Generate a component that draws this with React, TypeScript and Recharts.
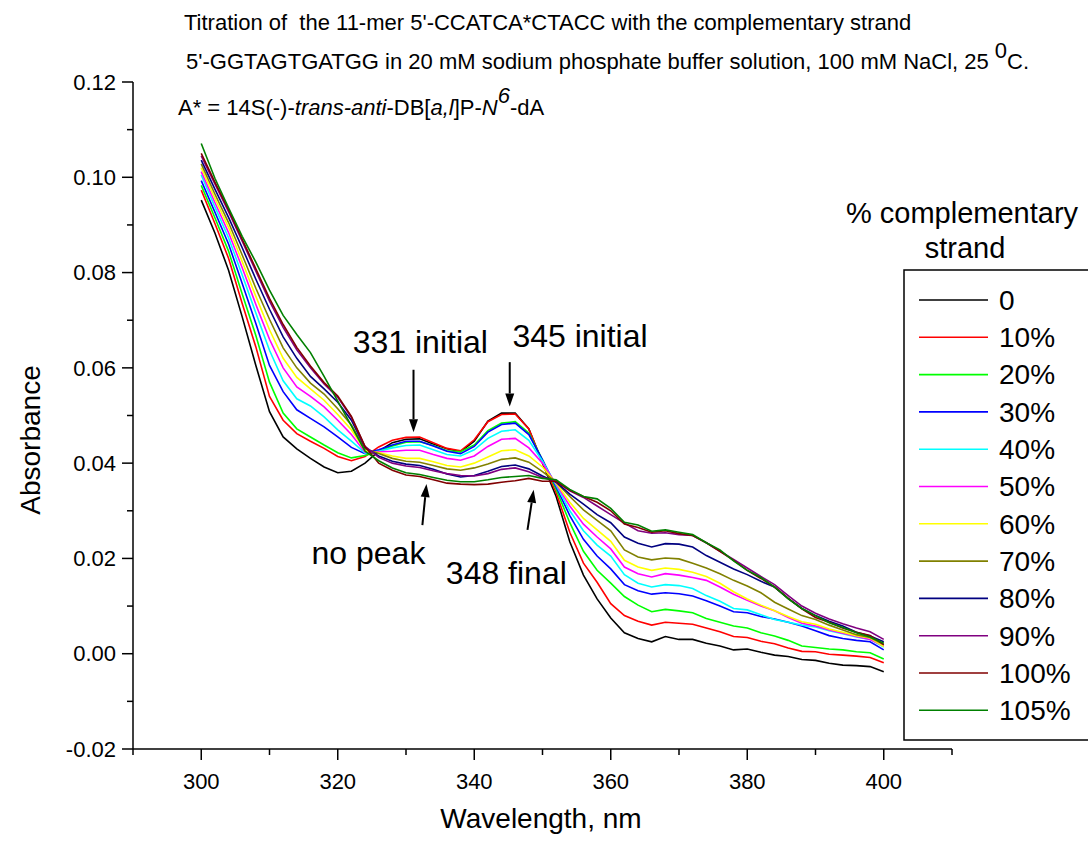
import { LineChart, Line, XAxis, YAxis, ReferenceLine, ReferenceDot } from 'recharts';

// wavelength grid, nm
const wavelength = [
  300, 302, 304, 306, 308, 310, 312, 314, 316, 318, 320, 322, 324, 326, 328, 330, 332,
  334, 336, 338, 340, 342, 344, 346, 348, 350, 352, 354, 356, 358, 360, 362, 364, 366,
  368, 370, 372, 374, 376, 378, 380, 382, 384, 386, 388, 390, 392, 394, 396, 398, 400,
];

// absorbance per % complementary strand
const pct0 = [
  0.0952, 0.0883, 0.0805, 0.0707, 0.0605, 0.0508, 0.0455, 0.043, 0.041, 0.0392, 0.038, 0.0383, 0.04,
  0.0425, 0.0443, 0.045, 0.0451, 0.044, 0.043, 0.0424, 0.0446, 0.0488, 0.0505, 0.0505, 0.0472, 0.04,
  0.033, 0.0235, 0.0165, 0.0115, 0.0075, 0.0044, 0.0032, 0.0025, 0.0036, 0.003, 0.003, 0.0022, 0.0016,
  0.0008, 0.001, 0.0003, -0.0003, -0.0006, -0.0012, -0.0014, -0.002, -0.0024, -0.0025, -0.0027, -0.0038,
];
const pct10 = [
  0.0973, 0.0903, 0.083, 0.0735, 0.0644, 0.054, 0.049, 0.0462, 0.0446, 0.0431, 0.0414, 0.0405, 0.0414,
  0.0434, 0.0448, 0.0454, 0.0455, 0.0443, 0.0431, 0.0426, 0.0449, 0.0487, 0.0502, 0.0503, 0.0472, 0.0402,
  0.0338, 0.0255, 0.019, 0.015, 0.0105, 0.008, 0.0068, 0.006, 0.0066, 0.0064, 0.0062, 0.0054, 0.0046,
  0.0036, 0.0034, 0.0026, 0.0021, 0.0012, 0.0005, 0.0004, -0.0001, -0.0003, -0.0005, -0.0008, -0.0019,
];
const pct20 = [
  0.0983, 0.0915, 0.0845, 0.0755, 0.0668, 0.057, 0.0505, 0.0472, 0.0455, 0.0438, 0.0422, 0.0411, 0.0416,
  0.0425, 0.0436, 0.0444, 0.0445, 0.0437, 0.0426, 0.0424, 0.0438, 0.0468, 0.0484, 0.0487, 0.0463, 0.0407,
  0.0345, 0.0275, 0.0215, 0.0175, 0.0148, 0.012, 0.0102, 0.0088, 0.0093, 0.009, 0.0086, 0.0074, 0.0066,
  0.0058, 0.0054, 0.0044, 0.0037, 0.0028, 0.0016, 0.0013, 0.001, 0.0008, 0.0004, 0.0002, -0.0011,
];
const pct30 = [
  0.0993, 0.0927, 0.086, 0.0777, 0.0693, 0.0605, 0.055, 0.0512, 0.0494, 0.0476, 0.0455, 0.0433, 0.042,
  0.0428, 0.0438, 0.0446, 0.0446, 0.0436, 0.0425, 0.042, 0.0435, 0.0465, 0.0481, 0.0484, 0.046, 0.0407,
  0.035, 0.029, 0.024, 0.0205, 0.0178, 0.0145, 0.0132, 0.0125, 0.0128, 0.0126, 0.0121, 0.0111, 0.01,
  0.0088, 0.0086, 0.0078, 0.0073, 0.0066, 0.0058, 0.0048, 0.0038, 0.0032, 0.0028, 0.0025, 0.0008,
];
const pct40 = [
  0.1005, 0.0938, 0.0873, 0.0795, 0.0715, 0.0637, 0.0573, 0.0535, 0.052, 0.0497, 0.047, 0.0446, 0.0421,
  0.0425, 0.0432, 0.0437, 0.0438, 0.0428, 0.0418, 0.0415, 0.0428, 0.0452, 0.0467, 0.047, 0.0448, 0.0404,
  0.0354, 0.03, 0.0258, 0.0228, 0.0205, 0.0166, 0.0148, 0.014, 0.0145, 0.0143, 0.0137, 0.0122, 0.011,
  0.0095, 0.0092, 0.0082, 0.0072, 0.0066, 0.006, 0.0056, 0.0048, 0.0042, 0.0035, 0.003, 0.0014,
];
const pct50 = [
  0.1012, 0.0947, 0.0884, 0.081, 0.0733, 0.066, 0.06, 0.056, 0.054, 0.0518, 0.049, 0.046, 0.0423,
  0.0424, 0.0425, 0.0427, 0.0427, 0.0418, 0.041, 0.0406, 0.0415, 0.0435, 0.045, 0.0452, 0.0432, 0.04,
  0.0356, 0.031, 0.0272, 0.0245, 0.022, 0.0182, 0.0168, 0.0161, 0.0168, 0.0165, 0.016, 0.0154, 0.014,
  0.0125, 0.0112, 0.01, 0.009, 0.0076, 0.0064, 0.0058, 0.005, 0.0043, 0.0036, 0.003, 0.0016,
];
const pct60 = [
  0.102, 0.0956, 0.0895, 0.0823, 0.075, 0.068, 0.062, 0.058, 0.0556, 0.0532, 0.0502, 0.047, 0.0426,
  0.0422, 0.0415, 0.041, 0.041, 0.0403, 0.0395, 0.0392, 0.04, 0.0413, 0.0426, 0.0428, 0.0415, 0.0392,
  0.0358, 0.0318, 0.0284, 0.026, 0.0236, 0.0196, 0.0182, 0.0175, 0.018, 0.0177, 0.0171, 0.0162, 0.0148,
  0.013, 0.0115, 0.0102, 0.009, 0.0078, 0.0067, 0.0062, 0.0052, 0.0045, 0.0038, 0.0033, 0.0015,
];
const pct70 = [
  0.1028, 0.0965, 0.0905, 0.0837, 0.0767, 0.0702, 0.0642, 0.06, 0.0568, 0.0545, 0.0514, 0.048, 0.043,
  0.042, 0.041, 0.0404, 0.0402, 0.0395, 0.0388, 0.0385, 0.039, 0.0398, 0.0408, 0.0411, 0.0402, 0.0382,
  0.036, 0.033, 0.0302, 0.028, 0.0258, 0.0218, 0.0203, 0.0197, 0.0201, 0.0199, 0.019, 0.018, 0.0168,
  0.0154, 0.0142, 0.0128, 0.0108, 0.0094, 0.008, 0.0072, 0.006, 0.005, 0.004, 0.0034, 0.0019,
];
const pct80 = [
  0.1036, 0.0975, 0.0916, 0.0852, 0.0786, 0.0723, 0.0665, 0.062, 0.0582, 0.0556, 0.0528, 0.049, 0.0433,
  0.0415, 0.0404, 0.0398, 0.0395, 0.0387, 0.0377, 0.0371, 0.0374, 0.0383, 0.0393, 0.0396, 0.0388, 0.0373,
  0.036, 0.0335, 0.0314, 0.0292, 0.0275, 0.0245, 0.0232, 0.0224, 0.0231, 0.023, 0.0224, 0.0206, 0.0192,
  0.0178, 0.0166, 0.0152, 0.014, 0.0116, 0.0095, 0.008, 0.0068, 0.0058, 0.0045, 0.0037, 0.0025,
];
const pct90 = [
  0.1045, 0.0986, 0.0928, 0.0866, 0.0803, 0.074, 0.0685, 0.0638, 0.06, 0.0566, 0.0538, 0.0496, 0.0435,
  0.0412, 0.04, 0.0394, 0.0391, 0.0384, 0.0378, 0.0374, 0.0373, 0.0378, 0.0387, 0.039, 0.0382, 0.037,
  0.0362, 0.0342, 0.0328, 0.031, 0.0292, 0.0274, 0.0258, 0.0253, 0.0254, 0.025, 0.0248, 0.0233, 0.0215,
  0.0198, 0.018, 0.0162, 0.0145, 0.0122, 0.01, 0.0085, 0.0073, 0.0063, 0.0054, 0.0046, 0.003,
];
const pct100 = [
  0.105, 0.099, 0.0932, 0.087, 0.0808, 0.0746, 0.0691, 0.0643, 0.0604, 0.0569, 0.0541, 0.0498, 0.0435,
  0.04, 0.0385, 0.0375, 0.0372, 0.0365, 0.0358, 0.0356, 0.0355, 0.0356, 0.036, 0.0363, 0.0368, 0.0362,
  0.0362, 0.0343, 0.033, 0.0318, 0.03, 0.0272, 0.0265, 0.0255, 0.0258, 0.0252, 0.0248, 0.0233, 0.0215,
  0.0196, 0.0175, 0.0158, 0.014, 0.0116, 0.0094, 0.0076, 0.0066, 0.0054, 0.0045, 0.0038, 0.0019,
];
const pct105 = [
  0.1071, 0.0998, 0.0936, 0.0876, 0.0822, 0.0763, 0.071, 0.067, 0.0632, 0.0582, 0.053, 0.0478, 0.0425,
  0.0405, 0.039, 0.038, 0.0376, 0.037, 0.0364, 0.0361, 0.0361, 0.0365, 0.037, 0.0372, 0.0374, 0.0368,
  0.0365, 0.0345, 0.033, 0.0325, 0.0305, 0.0276, 0.027, 0.0257, 0.026, 0.0255, 0.025, 0.0233, 0.0218,
  0.0195, 0.0175, 0.016, 0.014, 0.0115, 0.0095, 0.008, 0.0065, 0.0055, 0.0044, 0.0035, 0.0022,
];

const seriesLabels = ['0', '10%', '20%', '30%', '40%', '50%', '60%', '70%', '80%', '90%', '100%', '105%'];
const seriesColors = [
  '#000000', '#FF0000', '#00FF00', '#0000FF', '#00FFFF', '#FF00FF',
  '#FFFF00', '#808000', '#000080', '#800080', '#800000', '#008000',
];
const seriesValues = [pct0, pct10, pct20, pct30, pct40, pct50, pct60, pct70, pct80, pct90, pct100, pct105];

const xTicks = [290, 300, 310, 320, 330, 340, 350, 360, 370, 380, 390, 400, 410];
const yTicks = [-0.02, -0.01, 0, 0.01, 0.02, 0.03, 0.04, 0.05, 0.06, 0.07, 0.08, 0.09, 0.1, 0.11, 0.12];

// annotations: label text, anchor point, arrow tail -> tip
const notes = [
  { text: '331 initial', x: 332.1, y: 0.0654, from: [331.1, 0.0596], to: [331.1, 0.0465] },
  { text: '345 initial', x: 355.5, y: 0.0667, from: [345.2, 0.0612], to: [345.2, 0.0519] },
  { text: 'no peak', x: 324.5, y: 0.0211, from: [332.4, 0.027], to: [333.0, 0.0356] },
  { text: '348 final', x: 344.7, y: 0.0169, from: [347.8, 0.026], to: [348.7, 0.0344] },
];

const rows = wavelength.map((w, i) => {
  const row: Record<string, number> = { w };
  seriesValues.forEach((vals, k) => {
    row['s' + k] = vals[i];
  });
  return row;
});

const FONT = '"Liberation Sans", Arial, sans-serif';

function YTick(props: any) {
  const { x, y, payload } = props;
  const v = payload.value as number;
  const major = Math.round(v * 100) % 2 === 0;
  return (
    <g>
      <line x1={x - (major ? 11 : 6)} y1={y} x2={x} y2={y} stroke="#000" strokeWidth={1.5} />
      {major && (
        <text x={x - 17} y={y} dy="0.35em" textAnchor="end" fontSize={22} fontFamily={FONT} fill="#000">
          {v.toFixed(2)}
        </text>
      )}
    </g>
  );
}

function XTick(props: any) {
  const { x, y, payload } = props;
  const v = payload.value as number;
  const major = v % 20 === 0;
  return (
    <g>
      <line x1={x} y1={y} x2={x} y2={y + (major ? 11 : 6)} stroke="#000" strokeWidth={1.5} />
      {major && (
        <text x={x} y={y + 32} dy="0.35em" textAnchor="middle" fontSize={22} fontFamily={FONT} fill="#000">
          {v}
        </text>
      )}
    </g>
  );
}

function Arrow(props: any) {
  const { x1, y1, x2, y2 } = props;
  const ang = Math.atan2(y2 - y1, x2 - x1);
  const len = 13;
  const half = 4.5;
  const bx = x2 - len * Math.cos(ang);
  const by = y2 - len * Math.sin(ang);
  const px = -Math.sin(ang) * half;
  const py = Math.cos(ang) * half;
  return (
    <g>
      <line x1={x1} y1={y1} x2={bx} y2={by} stroke="#000" strokeWidth={2} />
      <polygon points={`${x2},${y2} ${bx + px},${by + py} ${bx - px},${by - py}`} fill="#000" />
    </g>
  );
}

function NoteText(text: string) {
  return (props: any) => (
    <text x={props.cx} y={props.cy} dy="0.35em" textAnchor="middle" fontSize={32} fontFamily={FONT} fill="#000">
      {text}
    </text>
  );
}

function Overlay() {
  const legendTop = 300;
  const rowGap = 37.3;
  return (
    <svg
      width={1088}
      height={842}
      style={{ position: 'absolute', left: 0, top: 0, pointerEvents: 'none' }}
      fontFamily={FONT}
    >
      <text x={184} y={22} dy="0.35em" fontSize={22} style={{ whiteSpace: 'pre' }}>
        {"Titration of  the 11-mer 5'-CCATCA*CTACC with the complementary strand"}
      </text>
      <text x={180} y={61} dy="0.35em" fontSize={22} style={{ whiteSpace: 'pre' }}>
        {" 5'-GGTAGTGATGG in 20 mM sodium phosphate buffer solution, 100 mM NaCl, 25 "}
        <tspan dy={-11}>0</tspan>
        <tspan dy={11}>C.</tspan>
      </text>
      <text x={178} y={107} dy="0.35em" fontSize={22}>
        {'A* = 14S(-)-'}
        <tspan fontStyle="italic">trans-anti</tspan>
        {'-DB['}
        <tspan fontStyle="italic">a,l</tspan>
        {']P-'}
        <tspan fontStyle="italic">N</tspan>
        <tspan fontStyle="italic" dy={-12}>6</tspan>
        <tspan dy={12}>-dA</tspan>
      </text>

      <text x={30} y={440} dy="0.35em" fontSize={28} textAnchor="middle" transform="rotate(-90 30 440)">
        Absorbance
      </text>
      <text x={541} y={818} dy="0.35em" fontSize={28} textAnchor="middle">
        Wavelength, nm
      </text>

      <text x={962} y={213} dy="0.35em" fontSize={29} textAnchor="middle">
        % complementary
      </text>
      <text x={965} y={248} dy="0.35em" fontSize={29} textAnchor="middle">
        strand
      </text>
      <rect x={904} y={270} width={200} height={470} fill="none" stroke="#000" strokeWidth={1.5} />
      {seriesLabels.map((label, i) => {
        const y = legendTop + i * rowGap;
        return (
          <g key={label}>
            <line x1={919} y1={y} x2={988} y2={y} stroke={seriesColors[i]} strokeWidth={1.6} />
            <text x={999} y={y} dy="0.35em" fontSize={28}>
              {label}
            </text>
          </g>
        );
      })}
    </svg>
  );
}

export default function App() {
  return (
    <div style={{ position: 'absolute', left: 0, top: 0, width: 1088, height: 842, background: '#fff' }}>
      <LineChart width={1088} height={842} data={rows} margin={{ top: 82, right: 136, bottom: 33, left: 53 }}>
        <XAxis
          dataKey="w"
          type="number"
          domain={[290, 410]}
          ticks={xTicks}
          interval={0}
          height={60}
          tickSize={0}
          tickMargin={0}
          tickLine={false}
          tick={<XTick />}
          axisLine={{ stroke: '#000', strokeWidth: 1.5 }}
        />
        <YAxis
          type="number"
          domain={[-0.02, 0.12]}
          ticks={yTicks}
          interval={0}
          width={80}
          tickSize={0}
          tickMargin={0}
          tickLine={false}
          tick={<YTick />}
          axisLine={{ stroke: '#000', strokeWidth: 1.5 }}
        />
        {seriesValues.map((_, k) => (
          <Line
            key={k}
            type="linear"
            dataKey={'s' + k}
            name={seriesLabels[k]}
            stroke={seriesColors[k]}
            strokeWidth={1.6}
            dot={false}
            activeDot={false}
            isAnimationActive={false}
          />
        ))}
        {notes.map((n) => (
          <ReferenceLine
            key={n.text + '-arrow'}
            segment={[
              { x: n.from[0], y: n.from[1] },
              { x: n.to[0], y: n.to[1] },
            ]}
            shape={Arrow}
          />
        ))}
        {notes.map((n) => (
          <ReferenceDot key={n.text} x={n.x} y={n.y} r={0} shape={NoteText(n.text)} />
        ))}
      </LineChart>
      <Overlay />
    </div>
  );
}
